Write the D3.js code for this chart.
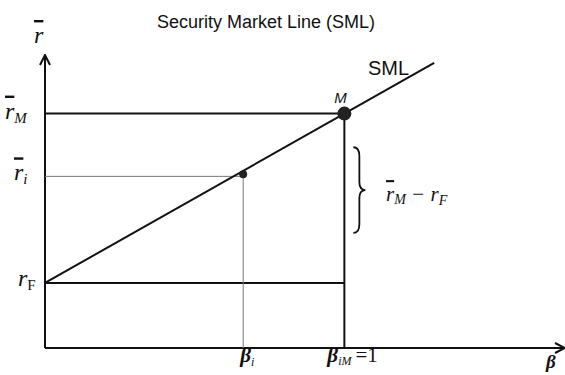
<!DOCTYPE html>
<html>
<head>
<meta charset="utf-8">
<script src="https://cdn.jsdelivr.net/npm/d3@7"></script>
<style>
  body { margin: 0; background: #fff; }
  svg { display: block; }
  .serif { font-family: "Liberation Serif", "DejaVu Serif", serif; font-style: italic; fill: #111; }
  .sans { font-family: "Liberation Sans", Arial, sans-serif; fill: #111; }
</style>
</head>
<body>
<div id="chart"></div>
<script>
// Data (arbitrary units)
const riskFree = 3;          // r_F
const marketReturn = 10.8;   // r_M
const betaMarket = 1;        // beta_iM
const betaAsset = 0.662;     // beta_i
const assetReturn = 8.0;     // r_i
const smlEnd = 1.3;          // where the SML stops
const betaDomain = [0, 1.737];
const returnDomain = [0, 13.5];
const braceRange = [9.25, 5.3];

const width = 565, height = 375;
const x = d3.scaleLinear(betaDomain, [45, 565]);
const y = d3.scaleLinear(returnDomain, [348, 55]);
const sml = b => riskFree + b * (marketReturn - riskFree);

const svg = d3.select('#chart').append('svg')
  .attr('width', width).attr('height', height);

// arrow heads
svg.append('defs').append('marker')
  .attr('id', 'arrow').attr('viewBox', '0 0 12 12')
  .attr('refX', 11).attr('refY', 6)
  .attr('markerWidth', 12).attr('markerHeight', 12)
  .attr('markerUnits', 'userSpaceOnUse').attr('orient', 'auto')
  .append('path').attr('d', 'M1,1 L11,6 L1,11')
  .attr('fill', 'none').attr('stroke', '#111').attr('stroke-width', 2);

const ink = '#111';

// axes
svg.append('line')
  .attr('x1', x(0)).attr('y1', y(0)).attr('x2', x(betaDomain[1])).attr('y2', y(0))
  .attr('stroke', ink).attr('stroke-width', 2).attr('marker-end', 'url(#arrow)');
svg.append('line')
  .attr('x1', x(0)).attr('y1', y(0)).attr('x2', x(0)).attr('y2', y(returnDomain[1]))
  .attr('stroke', ink).attr('stroke-width', 2).attr('marker-end', 'url(#arrow)');

// r_F and r_M levels
[riskFree, marketReturn].forEach(v => {
  svg.append('line')
    .attr('x1', x(0)).attr('x2', x(betaMarket))
    .attr('y1', y(v)).attr('y2', y(v))
    .attr('stroke', ink).attr('stroke-width', 2);
});
svg.append('line')
  .attr('x1', x(betaMarket)).attr('x2', x(betaMarket))
  .attr('y1', y(0)).attr('y2', y(marketReturn))
  .attr('stroke', ink).attr('stroke-width', 2);

// asset i guide lines (thin)
svg.append('line')
  .attr('x1', x(0)).attr('x2', x(betaAsset))
  .attr('y1', y(assetReturn) + 2).attr('y2', y(assetReturn) + 2)
  .attr('stroke', '#777').attr('stroke-width', 1);
svg.append('line')
  .attr('x1', x(betaAsset)).attr('x2', x(betaAsset))
  .attr('y1', y(0)).attr('y2', y(assetReturn))
  .attr('stroke', '#777').attr('stroke-width', 1);

// SML
svg.append('line')
  .attr('x1', x(0)).attr('y1', y(sml(0)))
  .attr('x2', x(smlEnd)).attr('y2', y(sml(smlEnd)))
  .attr('stroke', ink).attr('stroke-width', 2);

// points
svg.append('circle').attr('cx', x(betaMarket)).attr('cy', y(marketReturn))
  .attr('r', 7).attr('fill', '#222');
svg.append('circle').attr('cx', x(betaAsset)).attr('cy', y(assetReturn))
  .attr('r', 4).attr('fill', '#222');

// brace for r_M - r_F
const bx = x(betaMarket) + 9, bw = 12;
const b0 = y(braceRange[0]), b1 = y(braceRange[1]), bm = (b0 + b1) / 2;
svg.append('path')
  .attr('d', `M${bx},${b0} Q${bx + bw/2},${b0} ${bx + bw/2},${b0 + 9} L${bx + bw/2},${bm - 8}
    Q${bx + bw/2},${bm} ${bx + bw},${bm} Q${bx + bw/2},${bm} ${bx + bw/2},${bm + 8}
    L${bx + bw/2},${b1 - 9} Q${bx + bw/2},${b1} ${bx},${b1}`)
  .attr('fill', 'none').attr('stroke', ink).attr('stroke-width', 1.8);

// labels
svg.append('text').attr('class', 'sans').attr('x', 266).attr('y', 28)
  .attr('text-anchor', 'middle').style('font-size', '18px').text('Security Market Line (SML)');
svg.append('text').attr('class', 'sans').attr('x', 368).attr('y', 75)
  .style('font-size', '20px').text('SML');
svg.append('text').attr('class', 'sans').attr('x', x(betaMarket) - 10).attr('y', y(marketReturn) - 11)
  .style('font-size', '15px').style('font-style', 'italic').text('M');

function rLabel(xp, yp, sub, bar) {
  const t = svg.append('text').attr('class', 'serif').attr('x', xp).attr('y', yp)
    .style('font-size', '24px');
  t.append('tspan').text('r').style('text-decoration', bar ? 'overline' : 'none');
  if (sub) t.append('tspan').attr('dy', 4).style('font-size', '15px').text(sub);
  return t;
}
rLabel(34, 43, '', true);
rLabel(5, y(marketReturn) + 5, 'M', true);
rLabel(14, y(assetReturn) + 6, 'i', true);
rLabel(18, y(riskFree) + 3, 'F', false).select('tspan:last-child').style('font-style', 'normal');

const diff = svg.append('text').attr('class', 'serif').attr('x', 386).attr('y', bm + 11)
  .style('font-size', '21px');
diff.append('tspan').text('r').style('text-decoration', 'overline');
diff.append('tspan').attr('dy', 3).style('font-size', '14px').text('M');
diff.append('tspan').attr('dy', -3).text(' \u2212 r');
diff.append('tspan').attr('dy', 4).style('font-size', '14px').text('F');

const bi = svg.append('text').attr('class', 'serif').attr('x', x(betaAsset) - 3).attr('y', 362)
  .style('font-size', '21px').style('font-weight', 'bold');
bi.append('tspan').text('\u03b2');
bi.append('tspan').attr('dy', 4).style('font-size', '12px').style('font-weight', 'normal').text('i');

const bm1 = svg.append('text').attr('class', 'serif').attr('x', x(betaMarket) - 17).attr('y', 362)
  .style('font-size', '21px').style('font-weight', 'bold');
bm1.append('tspan').text('\u03b2');
bm1.append('tspan').attr('dy', 3).style('font-size', '12px').style('font-weight', 'normal').text('iM');
bm1.append('tspan').attr('dy', -3).attr('dx', 4).style('font-style', 'normal').style('font-weight', 'normal').text('=1');

svg.append('text').attr('class', 'serif').attr('x', 546).attr('y', 368)
  .style('font-size', '19px').style('font-weight', 'bold').text('\u03b2');
</script>
</body>
</html>
